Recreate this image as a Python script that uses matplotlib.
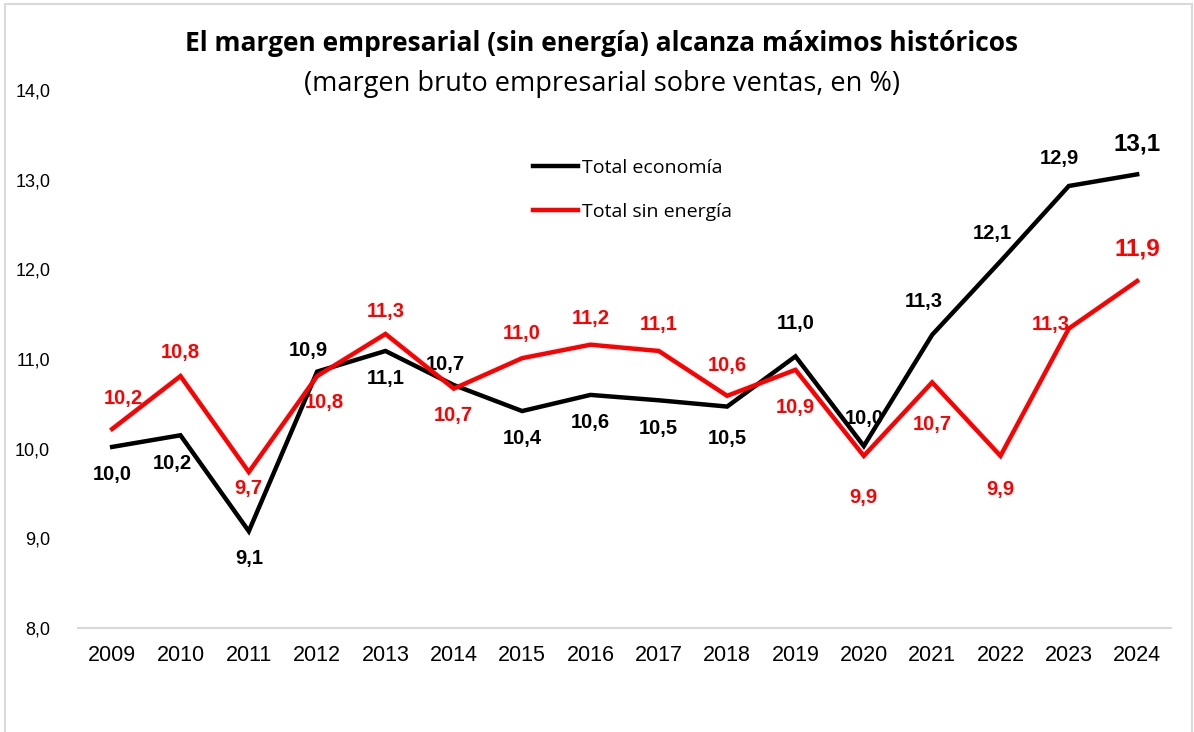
import matplotlib.pyplot as plt
from matplotlib.patches import Rectangle

# Datos (margen bruto empresarial sobre ventas, %)
years = [2009, 2010, 2011, 2012, 2013, 2014, 2015, 2016,
         2017, 2018, 2019, 2020, 2021, 2022, 2023, 2024]
total_economia = [10.02, 10.15, 9.08, 10.86, 11.09, 10.71, 10.42, 10.60,
                  10.54, 10.47, 11.03, 10.03, 11.27, 12.09, 12.93, 13.06]
total_sin_energia = [10.22, 10.81, 9.74, 10.81, 11.28, 10.67, 11.01, 11.16,
                     11.09, 10.59, 10.88, 9.92, 10.74, 9.92, 11.34, 11.87]
yticks = [8.0, 9.0, 10.0, 11.0, 12.0, 13.0, 14.0]

# desplazamientos de etiquetas (puntos)
off_negro = [(0, -20), (-6, -20), (0, -20), (-6, 15), (0, -20), (-6, 15), (0, -20), (0, -20),
             (0, -20), (0, -23), (0, 24), (0, 20), (-6, 24), (-6, 20), (-7, 20), (0, 22)]
off_rojo = [(8, 22), (0, 17), (0, -12), (5, -19), (0, 16), (0, -19), (0, 18), (0, 19),
            (0, 19), (0, 22), (0, -27), (0, -30), (0, -30), (0, -24), (-13, 3), (0, 23)]

def fmt(v):
    return f"{v:.1f}".replace(".", ",")

fig = plt.figure(figsize=(11.94, 7.32), dpi=100)
ax = fig.add_axes([0.0653, 0.142, 0.9157, 0.735])

ax.plot(years, total_economia, color='black', lw=3.2, label='Total economía',
        solid_joinstyle='miter', zorder=3)
ax.plot(years, total_sin_energia, color='#ff0000', lw=3.2, label='Total sin energía',
        solid_joinstyle='miter', zorder=3)

for i, (x, v) in enumerate(zip(years, total_economia)):
    size = 17.5 if i == len(years) - 1 else 14.5
    ax.annotate(fmt(v), (x, v), xytext=off_negro[i], textcoords='offset points',
                ha='center', va='center', fontsize=size, fontweight='bold',
                color='black', family='Liberation Sans', zorder=1)
for i, (x, v) in enumerate(zip(years, total_sin_energia)):
    size = 17.5 if i == len(years) - 1 else 14.5
    ax.annotate(fmt(v), (x, v), xytext=off_rojo[i], textcoords='offset points',
                ha='center', va='center', fontsize=size, fontweight='bold',
                color='#ff0000', family='Liberation Sans', zorder=1)

ax.set_xlim(2008.5, 2024.5)
ax.set_ylim(8.0, 14.0)
ax.set_xticks(years)
ax.set_xticklabels([str(y) for y in years], fontsize=15.5, family='Liberation Sans')
ax.set_yticks(yticks)
ax.set_yticklabels([fmt(t) for t in yticks], fontsize=13, family='Liberation Sans')
ax.tick_params(axis='both', length=0)
ax.tick_params(axis='y', pad=20)
ax.tick_params(axis='x', pad=12)
for s in ['top', 'right', 'left']:
    ax.spines[s].set_visible(False)
ax.spines['bottom'].set_color('#d9d9d9')
ax.spines['bottom'].set_linewidth(1.5)

leg = ax.legend(loc='upper left', bbox_to_anchor=(0.4, 0.905), frameon=False,
                prop={'family': 'Open Sans', 'size': 14}, handlelength=2.3,
                handletextpad=0.25, labelspacing=1.35)

fig.text(0.504, 0.941, 'El margen empresarial (sin energía) alcanza máximos históricos',
         ha='center', va='center', fontsize=19, fontweight='bold', family='Open Sans')
fig.text(0.504, 0.885, '(margen bruto empresarial sobre ventas, en %)',
         ha='center', va='center', fontsize=19.5, family='Open Sans')

# marco del gráfico
fig.patches.append(Rectangle((0.004, -0.01), 0.994, 1.005, transform=fig.transFigure,
                             fill=False, edgecolor='#d9d9d9', lw=1.5))

fig.savefig('out.png', dpi=100)
